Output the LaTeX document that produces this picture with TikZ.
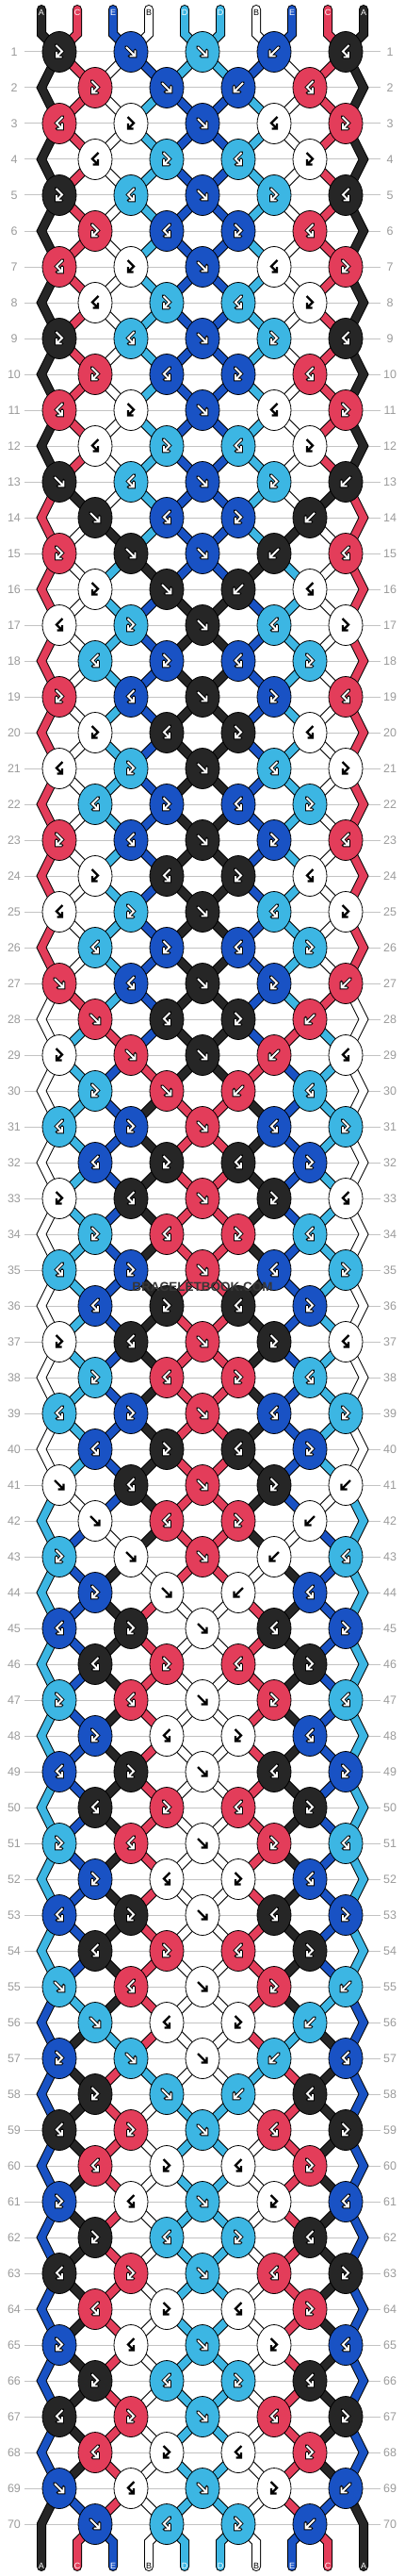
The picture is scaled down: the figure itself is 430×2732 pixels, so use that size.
\documentclass[tikz,border=0pt]{standalone}
\usepackage{fontspec}
\setmainfont{Liberation Sans}
\usetikzlibrary{shapes.geometric}
\definecolor{bbBlack}{RGB}{38,38,38}
\definecolor{bbRed}{RGB}{227,61,90}
\definecolor{bbBlue}{RGB}{25,82,196}
\definecolor{bbSky}{RGB}{60,182,227}
\definecolor{bbWhite}{RGB}{255,255,255}
\definecolor{bbRule}{RGB}{195,195,195}
\definecolor{bbNum}{RGB}{155,155,155}
\definecolor{bbMark}{RGB}{55,55,55}

\tikzset{
  knot/.style={ellipse, draw=black, line width=0.8pt, minimum width=36pt,
    minimum height=43pt, inner sep=0pt},
  rownum/.style={text=bbNum, font=\fontsize{12.5}{12.5}\selectfont},
  rowrule/.style={draw=bbRule, line width=1pt},
  endlabel/.style={font=\fontsize{9}{9}\selectfont, inner sep=0pt},
  watermark/.style={text=bbMark, font=\bfseries\fontsize{13.5}{13.5}\selectfont, inner sep=1pt}
}

% one stretch of thread: dark rim, coloured core
\newcommand\strand[2]{%
  \draw[color=black, line width=10pt, line cap=round] #2;
  \draw[color=#1, line width=8pt, line cap=round] #2;}

% arrow marks inside the knots
\def\whitename{bbWhite}
\newcommand\glyphdraw[2]{%
  \ifx\kc\whitename
    \draw[shift={(#1)}, black, line width=2.2pt] #2;
  \else
    \draw[shift={(#1)}, black, line width=3.8pt, line cap=round] #2;
    \draw[shift={(#1)}, white, line width=1.9pt] #2;
  \fi}
\newcommand\glyphF[1]{\glyphdraw{#1}{(-5,-5) -- (4.5,4.5) (4.5,-1.5) -- (4.5,4.5) -- (-1.5,4.5)}}
\newcommand\glyphB[1]{\glyphdraw{#1}{(5,-5) -- (-4.5,4.5) (-4.5,-1.5) -- (-4.5,4.5) -- (1.5,4.5)}}
\newcommand\glyphf[1]{\glyphdraw{#1}{(-3.5,-7) -- (3,-0.5) -- (-3,5.5) (-3,0) -- (-3,5.5) -- (2.5,5.5)}}
\newcommand\glyphb[1]{\glyphdraw{#1}{(3.5,-7) -- (-3,-0.5) -- (3,5.5) (3,0) -- (3,5.5) -- (-2.5,5.5)}}
\newcommand\swapstr{%
  \expandafter\xdef\csname sc\lpos\endcsname{\colR}%
  \expandafter\xdef\csname sc\rpos\endcsname{\colL}}

\begin{document}
\begin{tikzpicture}[x=1pt, y=-1pt]
\useasboundingbox (0,0) rectangle (430,2732);

% threads at the top, left to right
\foreach \i/\c in {0/bbBlack,1/bbRed,2/bbBlue,3/bbWhite,4/bbSky,5/bbSky,6/bbWhite,7/bbBlue,8/bbRed,9/bbBlack}
  {\expandafter\xdef\csname sc\i\endcsname{\c}}

\foreach \i in {0,...,9} {
  \coordinate (top-\i) at (44+38*\i, 10);
  \coordinate (neck-\i) at (44+38*\i, 36);
  \coordinate (foot-\i) at (44+38*\i, 2696);
  \coordinate (bot-\i) at (44+38*\i, 2722);
}
\coordinate (foot-0) at (44, 2677);
\coordinate (foot-9) at (386, 2677);

% rows: knot places, rules, numbers
\foreach \rw in {1,...,70} {
  \pgfmathsetmacro{\y}{55+38*(\rw-1)}
  \pgfmathtruncatemacro{\odd}{mod(\rw,2)}
  \ifnum\odd=1
    \foreach \kn in {1,...,5} {\coordinate (k-\rw-\kn) at (63+76*\kn-76, \y);}
  \else
    \foreach \kn in {1,...,4} {\coordinate (k-\rw-\kn) at (101+76*\kn-76, \y);}
    \coordinate (edgeL-\rw) at (44, \y);
    \coordinate (edgeR-\rw) at (386, \y);
  \fi
  \draw[rowrule] (26, \y) -- (404, \y);
  \node[rownum] (numL-\rw) at (15, \y) {\rw};
  \node[rownum] (numR-\rw) at (414, \y) {\rw};
}

% threads, 14 rows repeated five times; knot colours kept for later
% F = forward, B = backward, f = forward-backward, b = backward-forward
\foreach \rep in {0,...,4} {
  \foreach \base/\codes in {1/{f,F,F,B,b}, 2/{f,F,B,b}, 3/{b,f,F,b,f}, 4/{b,f,b,f},
      5/{f,b,F,f,b}, 6/{f,b,f,b}, 7/{b,f,F,b,f}, 8/{b,f,b,f}, 9/{f,b,F,f,b},
      10/{f,b,f,b}, 11/{b,f,F,b,f}, 12/{b,f,b,f}, 13/{F,b,F,f,B}, 14/{F,b,f,B}} {
    \pgfmathtruncatemacro{\rw}{14*\rep+\base}
    \pgfmathtruncatemacro{\rp}{\rw-1}
    \pgfmathtruncatemacro{\rpp}{\rw-2}
    \pgfmathtruncatemacro{\odd}{mod(\rw,2)}
    \foreach \kt [count=\kn] in \codes {
      \pgfmathtruncatemacro{\lpos}{\odd==1 ? 2*\kn-2 : 2*\kn-1}
      \pgfmathtruncatemacro{\rpos}{\lpos+1}
      \pgfmathtruncatemacro{\kl}{\kn-1}
      \pgfmathtruncatemacro{\kr}{\kn+1}
      \edef\colL{\csname sc\lpos\endcsname}
      \edef\colR{\csname sc\rpos\endcsname}
      \ifnum\rw=1
        \strand{\colL}{(top-\lpos) -- (neck-\lpos) -- (k-1-\kn)}
        \strand{\colR}{(top-\rpos) -- (neck-\rpos) -- (k-1-\kn)}
      \else
        \ifnum\odd=1
          \ifnum\kn=1 \strand{\colL}{(k-\rpp-1) -- (edgeL-\rp) -- (k-\rw-1)}
          \else \strand{\colL}{(k-\rp-\kl) -- (k-\rw-\kn)}\fi
          \ifnum\kn=5 \strand{\colR}{(k-\rpp-5) -- (edgeR-\rp) -- (k-\rw-5)}
          \else \strand{\colR}{(k-\rp-\kn) -- (k-\rw-\kn)}\fi
        \else
          \strand{\colL}{(k-\rp-\kn) -- (k-\rw-\kn)}
          \strand{\colR}{(k-\rp-\kr) -- (k-\rw-\kn)}
        \fi
      \fi
      % the knot takes the colour of its leading thread
      \edef\kc{\colL}
      \if\kt B\edef\kc{\colR}\fi
      \if\kt b\edef\kc{\colR}\fi
      \expandafter\xdef\csname kc-\rw-\kn\endcsname{\kc}
      \expandafter\xdef\csname kt-\rw-\kn\endcsname{\kt}
      \if\kt F\swapstr\fi
      \if\kt B\swapstr\fi
    }
  }
}

% threads leaving at the bottom
\foreach \i in {0,...,9} {
  \edef\colB{\csname sc\i\endcsname}
  \ifnum\i=0 \strand{\colB}{(k-69-1) -- (foot-0) -- (bot-0)}
  \else\ifnum\i=9 \strand{\colB}{(k-69-5) -- (foot-9) -- (bot-9)}
  \else
    \pgfmathtruncatemacro{\kb}{(\i+1)/2}
    \strand{\colB}{(k-70-\kb) -- (foot-\i) -- (bot-\i)}
  \fi\fi
}

% knots on top of the threads
\foreach \rw in {1,...,70} {
  \pgfmathtruncatemacro{\nk}{mod(\rw,2)==1 ? 5 : 4}
  \foreach \kn in {1,...,\nk} {
    \edef\kc{\csname kc-\rw-\kn\endcsname}
    \edef\kt{\csname kt-\rw-\kn\endcsname}
    \node[knot, fill=\kc] (knot-\rw-\kn) at (k-\rw-\kn) {};
    \csname glyph\kt\endcsname{knot-\rw-\kn}
  }
}

% thread letters
\foreach \i/\lab/\tc in {0/A/white,1/C/white,2/E/white,3/B/black,4/D/white,
    5/D/white,6/B/black,7/E/white,8/C/white,9/A/white} {
  \node[endlabel, text=\tc] (labT-\i) at (44+38*\i, 13) {\lab};
  \node[endlabel, text=\tc] (labB-\i) at (44+38*\i, 2721) {\lab};
}

\node[watermark] (mark) at (215, 1365) {BRACELETBOOK.COM};
\end{tikzpicture}
\end{document}
